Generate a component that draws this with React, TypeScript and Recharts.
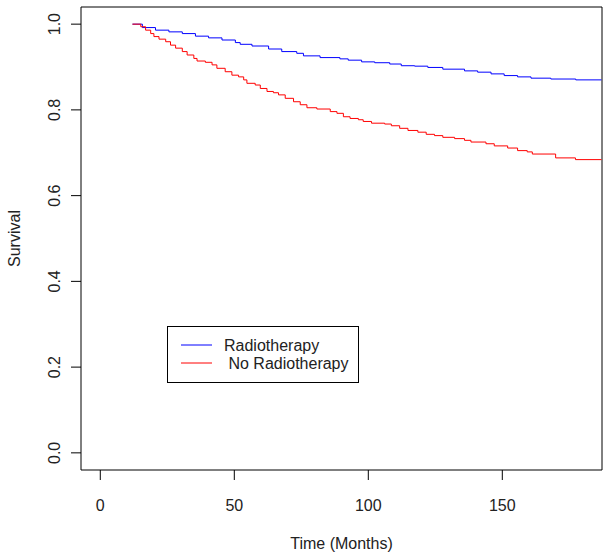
import React from 'react';
import { LineChart, Line, XAxis, YAxis, ReferenceArea, Legend } from 'recharts';

const radioT = [12, 15.7, 20.6, 25.6, 30.6, 35.5, 40.4, 45.4, 50.4, 52.2, 56.6, 62.8, 67.7, 73.3, 75.8, 82, 89.4, 92.5, 97.5, 102.4, 108, 112.3, 117.3, 122.2, 127.8, 135.9, 140.8, 145.8, 150.7, 155.7, 160.7, 168.1, 177.4, 187];
const radioS = [1.0, 0.992, 0.986, 0.982, 0.978, 0.972, 0.968, 0.963, 0.957, 0.953, 0.949, 0.942, 0.936, 0.932, 0.926, 0.922, 0.919, 0.916, 0.912, 0.91, 0.907, 0.903, 0.902, 0.899, 0.895, 0.891, 0.888, 0.884, 0.88, 0.877, 0.874, 0.872, 0.87, 0.87];

const noRadioT = [12, 15.1, 16.9, 18.8, 20, 21.9, 24.4, 26.2, 28.1, 30.6, 32.4, 34.9, 36.1, 39.2, 41.7, 43.5, 46.6, 49.1, 51.6, 53.5, 54.7, 57.8, 59.7, 62.2, 64.6, 66.5, 69, 72.1, 74.6, 77.1, 80.8, 85.8, 88.3, 90.7, 93.2, 96.3, 98.1, 101.2, 106.1, 108.6, 111.7, 114.8, 118.5, 121.6, 124.7, 127.8, 132.2, 135.9, 138.3, 143.9, 147, 152, 155.7, 159.3, 161.2, 169.9, 177.3, 187];
const noRadioS = [1.0, 0.994, 0.986, 0.978, 0.971, 0.965, 0.959, 0.951, 0.944, 0.936, 0.928, 0.92, 0.914, 0.911, 0.905, 0.897, 0.889, 0.881, 0.877, 0.87, 0.862, 0.858, 0.85, 0.843, 0.84, 0.835, 0.827, 0.819, 0.812, 0.805, 0.802, 0.796, 0.792, 0.784, 0.78, 0.777, 0.773, 0.769, 0.767, 0.763, 0.757, 0.752, 0.748, 0.743, 0.74, 0.736, 0.733, 0.729, 0.725, 0.721, 0.716, 0.711, 0.705, 0.702, 0.697, 0.688, 0.684, 0.684];

const xTicks = [0, 50, 100, 150];
const yTicks = [0, 0.2, 0.4, 0.6, 0.8, 1.0];
const seriesNames = ['Radiotherapy', ' No Radiotherapy'];

const radioData = radioT.map((t, i) => ({ t, s: radioS[i] }));
const noRadioData = noRadioT.map((t, i) => ({ t, s: noRadioS[i] }));

const FONT = '"Liberation Sans", Arial, sans-serif';

const XTick = (props: any) => {
  const { x, y, payload } = props;
  return (
    <text x={x} y={y + 31} textAnchor="middle" fontSize={16} fill="#222" fontFamily={FONT}>
      {payload.value}
    </text>
  );
};

const YTick = (props: any) => {
  const { x, y, payload } = props;
  const bx = x - 11;
  return (
    <text x={bx} y={y} transform={`rotate(-90, ${bx}, ${y})`} textAnchor="middle" fontSize={16} fill="#222" fontFamily={FONT}>
      {Number(payload.value).toFixed(1)}
    </text>
  );
};

const XLabel = (props: any) => {
  const { viewBox } = props;
  const cx = viewBox.x + viewBox.width / 2;
  return (
    <text x={cx} y={549} textAnchor="middle" fontSize={16} fill="#222" fontFamily={FONT}>
      Time (Months)
    </text>
  );
};

const YLabel = (props: any) => {
  const { viewBox } = props;
  const cy = viewBox.y + viewBox.height / 2;
  const bx = 20;
  return (
    <text x={bx} y={cy} transform={`rotate(-90, ${bx}, ${cy})`} textAnchor="middle" fontSize={16} fill="#222" fontFamily={FONT}>
      Survival
    </text>
  );
};

const LegendBox = (props: any) => {
  const payload = [...(props.payload || [])].sort(
    (a: any, b: any) => seriesNames.indexOf(a.value) - seriesNames.indexOf(b.value)
  );
  return (
    <div style={{ width: 192, height: 57, border: '1px solid #000', boxSizing: 'border-box', background: '#fff' }}>
      <svg width={190} height={55} style={{ display: 'block' }}>
        {payload.map((p: any, i: number) => {
          const ly = 18 + i * 18;
          return (
            <g key={i}>
              <line x1={13} x2={44} y1={ly} y2={ly} stroke={p.color} strokeWidth={1} />
              <text x={56} y={ly + 6} fontSize={16} fill="#222" fontFamily={FONT} style={{ whiteSpace: 'pre' }}>
                {p.value}
              </text>
            </g>
          );
        })}
      </svg>
    </div>
  );
};

export default function App() {
  return (
    <div style={{ position: 'absolute', left: 0, top: 0, width: 611, height: 556, background: '#fff' }}>
      <LineChart width={611} height={556} margin={{ top: 7, right: 9, left: 0, bottom: 0 }}>
        <XAxis
          type="number"
          dataKey="t"
          domain={[-7.2, 187.2]}
          ticks={xTicks}
          allowDataOverflow
          axisLine={false}
          tickLine={{ stroke: '#000' }}
          tickSize={10}
          tickMargin={0}
          height={86}
          tick={<XTick />}
          label={<XLabel />}
        />
        <YAxis
          type="number"
          dataKey="s"
          domain={[-0.04, 1.04]}
          ticks={yTicks}
          allowDataOverflow
          axisLine={false}
          tickLine={{ stroke: '#000' }}
          tickSize={10}
          tickMargin={0}
          width={81}
          tick={<YTick />}
          label={<YLabel />}
        />
        <ReferenceArea x1={-7.2} x2={187.2} y1={-0.04} y2={1.04} fill="none" stroke="#000" strokeWidth={1} ifOverflow="visible" />
        <Line data={radioData} dataKey="s" name={seriesNames[0]} type="stepAfter" stroke="#0000FF" strokeWidth={1} dot={false} isAnimationActive={false} />
        <Line data={noRadioData} dataKey="s" name={seriesNames[1]} type="stepAfter" stroke="#FF0000" strokeWidth={1} dot={false} isAnimationActive={false} />
        <Legend
          layout="vertical"
          align="center"
          verticalAlign="middle"
          content={<LegendBox />}
          wrapperStyle={{ position: 'absolute', left: 167, top: 326, width: 192, height: 57 }}
        />
      </LineChart>
    </div>
  );
}
